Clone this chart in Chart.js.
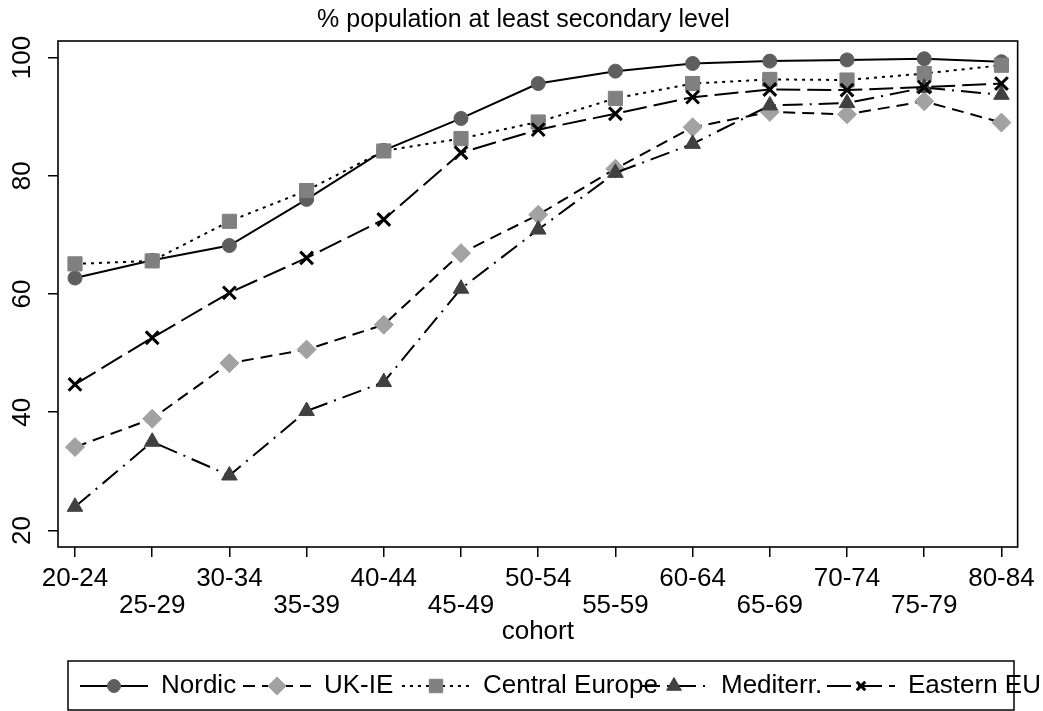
<!DOCTYPE html>
<html>
<head>
<meta charset="utf-8">
<script src="https://cdn.jsdelivr.net/npm/chart.js@4.4.0/dist/chart.umd.min.js"></script>
<style>
  body { margin: 0; background: #fff; }
</style>
</head>
<body>
<canvas id="eduChart" width="1043" height="711"></canvas>
<script>
// cohorts and series (% with at least secondary education)
const cohorts = ['20-24', '25-29', '30-34', '35-39', '40-44', '45-49', '50-54',
                 '55-59', '60-64', '65-69', '70-74', '75-79', '80-84'];
const yTicks = [20, 40, 60, 80, 100];
const nordic  = [62.7, 65.7, 68.2, 76.0, 84.3, 89.7, 95.6, 97.7, 99.0, 99.4, 99.6, 99.8, 99.3];
const ukie    = [34.1, 38.9, 48.3, 50.6, 54.8, 66.9, 73.4, 81.2, 88.2, 90.8, 90.4, 92.6, 89.0];
const central = [65.1, 65.6, 72.3, 77.5, 84.2, 86.3, 89.1, 93.1, 95.6, 96.3, 96.2, 97.3, 98.7];
const medit   = [24.0, 35.0, 29.3, 40.2, 45.1, 60.9, 70.9, 80.5, 85.4, 91.9, 92.3, 94.9, 93.7];
const eastern = [44.7, 52.6, 60.2, 66.1, 72.6, 83.9, 87.8, 90.5, 93.3, 94.6, 94.5, 95.0, 95.6];

const FONT = "'Liberation Sans', Arial, Helvetica, sans-serif";
Chart.defaults.font.family = FONT;
Chart.defaults.color = '#000';

const pts = arr => arr.map((v, i) => ({ x: i, y: v }));

function series(label, data, dash, style, radius, fill, bw, order) {
  return {
    label: label,
    data: pts(data),
    borderColor: '#000',
    borderWidth: 2,
    borderDash: dash,
    tension: 0,
    pointStyle: style,
    pointRadius: radius,
    pointHoverRadius: radius,
    pointBackgroundColor: fill,
    pointBorderColor: fill,
    pointBorderWidth: bw,
    order: order
  };
}

// frame around plot region + title (centred on the whole graph, stata style)
const framePlugin = {
  id: 'frame',
  beforeDatasetsDraw(chart) {
    const a = chart.chartArea, ctx = chart.ctx;
    ctx.save();
    ctx.strokeStyle = '#000';
    ctx.lineWidth = 1.6;
    ctx.strokeRect(a.left, a.top, a.right - a.left, a.bottom - a.top);
    ctx.fillStyle = '#000';
    ctx.font = '25px ' + FONT;
    ctx.textAlign = 'center';
    ctx.textBaseline = 'middle';
    ctx.fillText('% population at least secondary level', 523.5, 20);
    ctx.restore();
  }
};

// stata-like legend row: line + marker + text
const legendPlugin = {
  id: 'stataLegend',
  afterDraw(chart) {
    const ctx = chart.ctx;
    const xs = [80, 243, 402, 640, 827];
    const y = 686;
    ctx.save();
    ctx.strokeStyle = '#000';
    ctx.lineWidth = 1.5;
    ctx.strokeRect(68, 661, 946, 49);
    chart.data.datasets.forEach((ds, i) => {
      const x0 = xs[i];
      ctx.save();
      ctx.strokeStyle = '#000';
      ctx.lineWidth = 2;
      ctx.setLineDash(ds.borderDash);
      ctx.beginPath();
      ctx.moveTo(x0, y);
      ctx.lineTo(x0 + 68, y);
      ctx.stroke();
      ctx.setLineDash([]);
      ctx.fillStyle = ds.pointBackgroundColor;
      ctx.strokeStyle = ds.pointBorderColor;
      ctx.lineWidth = ds.pointBorderWidth;
      Chart.helpers.drawPoint(ctx, {
        pointStyle: ds.pointStyle,
        radius: ds.pointStyle === 'crossRot' ? 6 : ds.pointRadius - 0.5,
        rotation: 0,
        borderWidth: ds.pointBorderWidth
      }, x0 + 34, y);
      ctx.restore();
      ctx.fillStyle = '#000';
      ctx.font = '26px ' + FONT;
      ctx.textBaseline = 'middle';
      ctx.textAlign = 'left';
      ctx.fillText(ds.label, x0 + 81, y);
    });
    ctx.restore();
  }
};

new Chart(document.getElementById('eduChart'), {
  type: 'line',
  data: {
    datasets: [
      series('Nordic', nordic, [], 'circle', 7, '#5e5e5e', 1, 5),
      series('UK-IE', ukie, [12, 7], 'rectRot', 9.5, '#a2a2a2', 1, 4),
      series('Central Europe', central, [3, 5], 'rect', 10, '#808080', 1, 3),
      series('Mediterr.', medit, [20, 7, 2, 7], 'triangle', 9, '#404040', 1, 2),
      series('Eastern EU', eastern, [24, 7], 'crossRot', 9, '#000', 3, 1)
    ]
  },
  options: {
    responsive: false,
    animation: false,
    layout: { padding: { left: 0, right: 19, top: 41, bottom: 60 } },
    plugins: {
      legend: { display: false },
      tooltip: { enabled: false },
      title: { display: false }
    },
    scales: {
      x: {
        type: 'linear',
        min: -0.22,
        max: 12.21,
        afterBuildTicks: s => { s.ticks = cohorts.map((c, i) => ({ value: i })); },
        afterFit: s => { s.height = 104; },
        grid: { drawOnChartArea: false, tickLength: 10, color: '#000', lineWidth: 1.5 },
        border: { display: false },
        ticks: {
          autoSkip: false,
          maxRotation: 0,
          padding: 8,
          color: '#000',
          font: { size: 26, lineHeight: 1.04 },
          callback: v => (v % 2 === 0 ? [cohorts[v], ''] : ['', cohorts[v]])
        },
        title: {
          display: true,
          text: 'cohort',
          color: '#000',
          font: { size: 26, lineHeight: 1 },
          padding: { top: 0, bottom: 6 }
        }
      },
      y: {
        min: 17.2,
        max: 102.8,
        afterBuildTicks: s => { s.ticks = yTicks.map(v => ({ value: v })); },
        afterFit: s => { s.width = 58; },
        grid: { drawOnChartArea: false, tickLength: 10, color: '#000', lineWidth: 1.5 },
        border: { display: false },
        ticks: {
          minRotation: 90,
          maxRotation: 90,
          crossAlign: 'center',
          padding: 3,
          color: '#000',
          font: { size: 26 }
        }
      }
    }
  },
  plugins: [framePlugin, legendPlugin]
});
</script>
</body>
</html>
